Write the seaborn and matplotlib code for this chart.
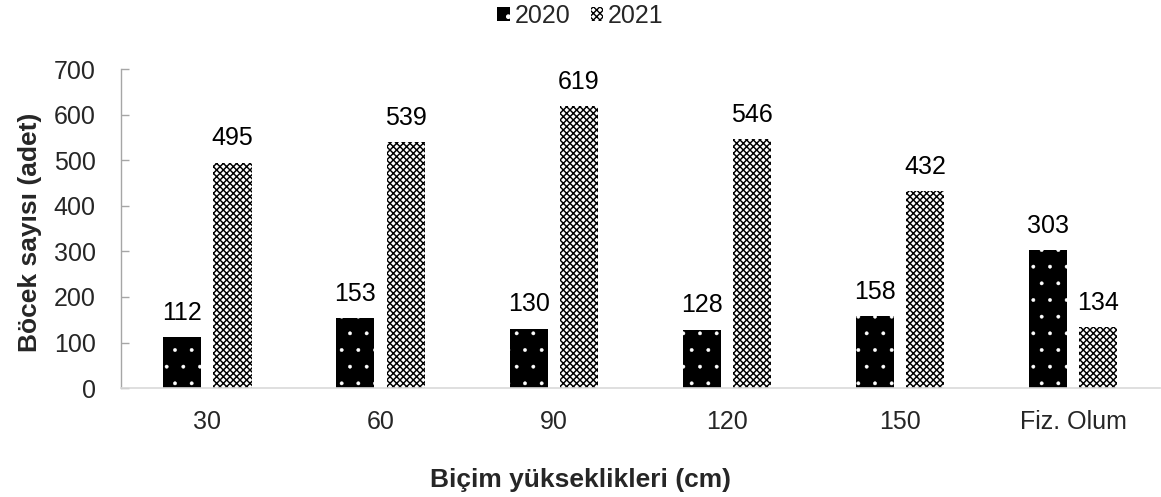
import matplotlib
matplotlib.use("Agg")
import matplotlib.pyplot as plt
import seaborn as sns
import pandas as pd

categories = ["30", "60", "90", "120", "150", "Fiz. Olum"]
values_2020 = [112, 153, 130, 128, 158, 303]
values_2021 = [495, 539, 619, 546, 432, 134]
years = ["2020", "2021"]
y_ticks = [0, 100, 200, 300, 400, 500, 600, 700]

sns.set_theme(style="white")
plt.rcParams["font.family"] = ["Liberation Sans", "DejaVu Sans"]
plt.rcParams["hatch.linewidth"] = 1.0

df = pd.DataFrame({
    "Biçim": categories * 2,
    "Böcek": values_2020 + values_2021,
    "Yıl": [years[0]] * len(categories) + [years[1]] * len(categories),
})

fig = plt.figure(figsize=(11.61, 4.97), dpi=100)
ax = fig.add_axes([0.104, 0.219, 0.895, 0.642])

sns.barplot(data=df, x="Biçim", y="Böcek", hue="Yıl", order=categories,
            hue_order=years, palette={"2020": "black", "2021": "white"},
            width=0.58, gap=0.24, ax=ax, legend=False, errorbar=None)

styles = [
    dict(facecolor="black", edgecolor="white", hatch=".", hlw=0.3),
    dict(facecolor="white", edgecolor="black", hatch="xxxxx", hlw=1.05),
]
for cont, st in zip(ax.containers, styles):
    for p in cont:
        p.set_facecolor(st["facecolor"])
        p.set_edgecolor(st["edgecolor"])
        p.set_hatch(st["hatch"])
        p.set_linewidth(0)
        if hasattr(p, "set_hatch_linewidth"):
            p.set_hatch_linewidth(st["hlw"])
    ax.bar_label(cont, fmt="%d", padding=9, fontsize=18, color="black")

ax.set_xlim(-0.5, len(categories) - 0.5)
ax.set_ylim(0, 700)
ax.set_yticks(y_ticks)
ax.tick_params(axis="y", direction="in", length=6, width=1, color="#a6a6a6",
               labelsize=18, pad=18, left=True)
ax.tick_params(axis="x", length=0, labelsize=18, pad=16)
for s in ["top", "right"]:
    ax.spines[s].set_visible(False)
ax.spines["left"].set_color("#a6a6a6")
ax.spines["bottom"].set_color("#d9d9d9")
ax.spines["left"].set_linewidth(1)
ax.spines["bottom"].set_linewidth(1.2)

ax.set_xlabel("")
ax.set_ylabel("")
fig.text(0.5, 1 - 480 / 497, "Biçim yükseklikleri (cm)", ha="center", va="center",
         fontsize=19, fontweight="bold")
fig.text(30 / 1161, 1 - 232 / 497, "Böcek sayısı (adet)", ha="center", va="center",
         rotation=90, fontsize=19, fontweight="bold")

leg = fig.legend(handles=list(ax.containers), labels=years, loc="center",
                 bbox_to_anchor=(0.5, 1 - 16 / 497), ncol=2, frameon=False,
                 fontsize=18, handlelength=0.5, handleheight=0.5,
                 handletextpad=0.2, columnspacing=0.8, borderaxespad=0)

fig.savefig("out.png", dpi=100)
